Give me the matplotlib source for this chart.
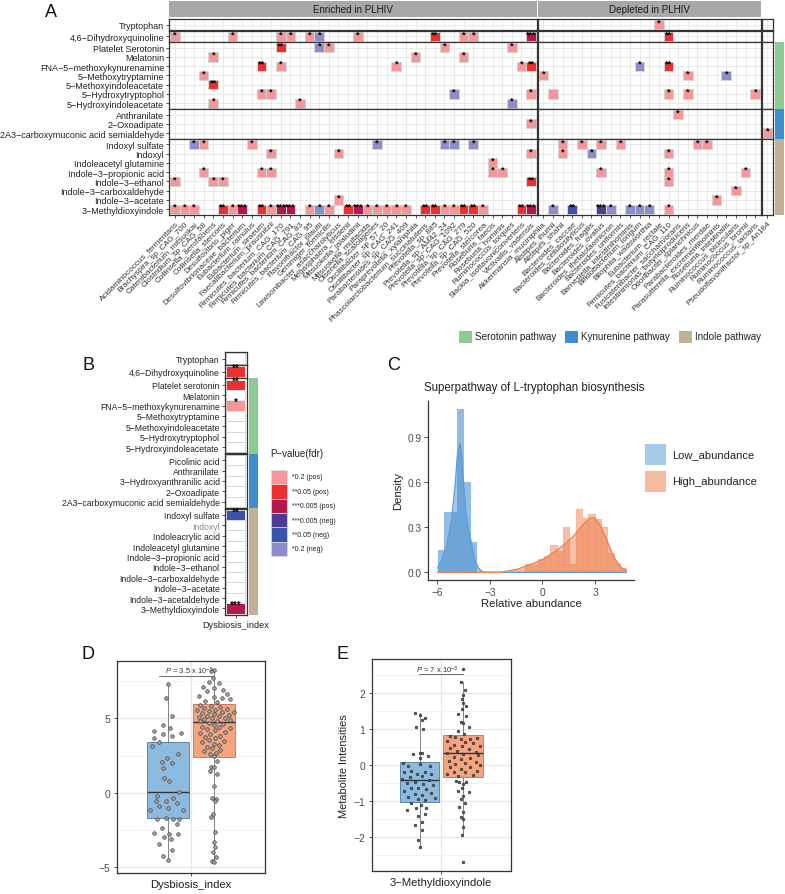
import matplotlib
matplotlib.use('Agg')
import matplotlib.pyplot as plt
from matplotlib.patches import Rectangle
import numpy as np

plt.rcParams['font.family'] = ['Liberation Sans', 'DejaVu Sans']
plt.rcParams['mathtext.fontset'] = 'custom'
plt.rcParams['mathtext.rm'] = 'Liberation Sans'
plt.rcParams['mathtext.it'] = 'Liberation Sans:italic'
plt.rcParams['axes.unicode_minus'] = True

MINUS = '\u2212'
def mm(s):
    return s.replace('-', MINUS)

# ------------------------------------------------------------------ data
species_enriched = ['Acidaminococcus_fermentans', 'Brachyspira_sp_CAG_700', 'Catenibacterium_mitsuokai',
    'Clostridium_sp_CAG_58', 'Collinsella_aerofaciens', 'Collinsella_stercoris', 'Desulfovibrio_piger',
    'Desulfovibrionaceae_bacterium', 'Eubacterium_ramulus', 'Eubacterium_siraeum', 'Faecalibacterium_prausnitzii',
    'Firmicutes_bacterium_CAG_170', 'Firmicutes_bacterium_CAG_791', 'Firmicutes_bacterium_CAG_83',
    'Firmicutes_bacterium_CAG_95', 'Flavonifractor_plautii', 'Gemmiger_formicilis',
    'Lawsonibacter_asaccharolyticus', 'Megasphaera_elsdenii', 'Mitsuokella_jalaludinii', 'Mitsuokella_multacida',
    'Olsenella_scatoligenes', 'Oscillibacter_sp_57_20', 'Oscillibacter_sp_CAG_241', 'Parabacteroides_sp_CAG_409',
    'Paraprevotella_xylaniphila', 'Phascolarctobacterium_succinatutens', 'Prevotella_sp_885',
    'Prevotella_sp_AM42_24', 'Prevotella_sp_CAG_1092', 'Prevotella_sp_CAG_279', 'Prevotella_sp_CAG_520',
    'Prevotella_stercorea', 'Roseburia_faecis', 'Roseburia_hominis', 'Ruminococcus_torques',
    'Slackia_isoflavoniconvertens', 'Victivallis_vadensis']
species_depleted = ['Akkermansia_muciniphila', 'Alistipes_ihumii', 'Alistipes_shahii', 'Bacteroides_caccae',
    'Bacteroides_cellulosilyticus', 'Bacteroides_fragilis', 'Bacteroides_ovatus', 'Bacteroides_thetaiotaomicron',
    'Bacteroides_uniformis', 'Barnesiella_intestinihominis', 'Bifidobacterium_longum', 'Bilophila_wadsworthia',
    'Eubacterium_rectale', 'Firmicutes_bacterium_CAG_110', 'Fusicatenibacter_saccharivorans',
    'Intestinimonas_butyriciproducens', 'Odoribacter_splanchnicus', 'Parabacteroides_merdae',
    'Parasutterella_excrementihominis', 'Roseburia_intestinalis', 'Ruminococcus_bicirculans',
    'Ruminococcus_bromii', 'Ruminococcus_lactaris']
species_other = ['Pseudoflavonifractor_sp_An184']
strip_labels = ['Enriched in PLHIV', 'Depleted in PLHIV', '']

groups_A = [
    ['Tryptophan'],
    ['4,6-Dihydroxyquinoline'],
    ['Platelet Serotonin', 'Melatonin', 'FNA-5-methoxykynurenamine', '5-Methoxytryptamine',
     '5-Methoxyindoleacetate', '5-Hydroxytryptophol', '5-Hydroxyindoleacetate'],
    ['Anthranilate', '2-Oxoadipate', '2A3-carboxymuconic acid semialdehyde'],
    ['Indoxyl sulfate', 'Indoxyl', 'Indoleacetyl glutamine', 'Indole-3-propionic acid', 'Indole-3-ethanol',
     'Indole-3-carboxaldehyde', 'Indole-3-acetate', '3-Methyldioxyindole'],
]
# (species index in enriched+depleted+other, level); level sign = direction, |level| = star count
sig_A = {
    'Tryptophan': [(50, 1)],
    '4,6-Dihydroxyquinoline': [(0, 1), (6, 1), (11, 1), (12, 1), (14, 1), (15, -1), (19, 1), (27, 2), (30, 1),
                               (31, 1), (37, 3), (51, 2)],
    'Platelet Serotonin': [(11, 2), (15, -1), (16, 1), (28, 1), (35, 1)],
    'Melatonin': [(4, 1), (25, 1), (30, 1)],
    'FNA-5-methoxykynurenamine': [(9, 2), (11, 1), (23, 1), (36, 1), (37, 2), (48, -1), (51, 2)],
    '5-Methoxytryptamine': [(3, 1), (38, 1), (53, 1), (57, -1)],
    '5-Methoxyindoleacetate': [(4, 2)],
    '5-Hydroxytryptophol': [(9, 1), (10, 1), (29, -1), (37, 1), (39, 1), (51, 1), (53, 1), (60, 1)],
    '5-Hydroxyindoleacetate': [(4, 1), (13, 1), (35, -1)],
    'Anthranilate': [(52, 1)],
    '2-Oxoadipate': [(37, 1)],
    '2A3-carboxymuconic acid semialdehyde': [(61, 1)],
    'Indoxyl sulfate': [(2, -1), (3, 1), (8, 1), (21, -1), (28, -1), (29, -1), (31, -1), (40, 1), (42, 1),
                        (44, 1), (46, 1), (54, 1), (55, 1)],
    'Indoxyl': [(10, 1), (17, 1), (37, 1), (40, 1), (43, -1), (51, 1)],
    'Indoleacetyl glutamine': [(33, 1)],
    'Indole-3-propionic acid': [(3, 1), (9, 1), (10, 1), (33, 1), (34, 1), (44, 1), (51, 1), (59, 1)],
    'Indole-3-ethanol': [(0, 1), (4, 1), (5, 1), (37, 2), (51, 1)],
    'Indole-3-carboxaldehyde': [(58, 1)],
    'Indole-3-acetate': [(17, 1), (56, 1)],
    '3-Methyldioxyindole': [(0, 1), (1, 1), (2, 1), (5, 2), (6, 1), (7, 3), (9, 2), (10, 1), (11, 3), (12, 3),
                            (14, 1), (15, -1), (16, 1), (18, 2), (19, 3), (20, 1), (21, 1), (22, 1), (23, 1),
                            (24, 1), (26, 2), (27, 2), (28, 1), (29, 1), (30, 2), (31, 2), (32, 1), (36, 2),
                            (37, 3), (39, -1), (41, -2), (44, -3), (45, -1), (47, -1), (48, -1), (49, -1),
                            (51, 1)],
}
unstarred_A = [('5-Hydroxytryptophol', 39)]

pathway_names = ['Serotonin pathway', 'Kynurenine pathway', 'Indole pathway']
pathway_colors = ['#8DCB92', '#3D8ED0', '#C0B195']

level_colors = {1: '#F4969A', 2: '#EC2F30', 3: '#B3194B', -3: '#4D3B94', -2: '#3A55A7', -1: '#8C8DC9'}
legend_levels = [1, 2, 3, -3, -2, -1]
legend_labels = ['*0.2 (pos)', '**0.05 (pos)', '***0.005 (pos)', '***0.005 (neg)', '**0.05 (neg)', '*0.2 (neg)']

groups_B = [
    ['Tryptophan'],
    ['4,6-Dihydroxyquinoline'],
    ['Platelet serotonin', 'Melatonin', 'FNA-5-methoxykynurenamine', '5-Methoxytryptamine',
     '5-Methoxyindoleacetate', '5-Hydroxytryptophol', '5-Hydroxyindoleacetate'],
    ['Picolinic acid', 'Anthranilate', '3-Hydroxyanthranilic acid', '2-Oxoadipate',
     '2A3-carboxymuconic acid semialdehyde'],
    ['Indoxyl sulfate', 'Indoxyl', 'Indoleacrylic acid', 'Indoleacetyl glutamine', 'Indole-3-propionic acid',
     'Indole-3-ethanol', 'Indole-3-carboxaldehyde', 'Indole-3-acetate', 'Indole-3-acetaldehyde',
     '3-Methyldioxyindole'],
]
sig_B = {'4,6-Dihydroxyquinoline': 2, 'Platelet serotonin': 2, 'FNA-5-methoxykynurenamine': 1,
         'Indoxyl sulfate': -2, '3-Methyldioxyindole': 3}
grey_B = ['Indoxyl']

# Panel C
low_edges = [-5.98, -5.615, -5.25, -4.885, -4.52, -4.155, -3.79]
low_heights = [0.15, 0.40, 0.40, 1.09, 0.60, 0.20]
high_edges = [-0.98, -0.62, -0.26, 0.10, 0.46, 0.82, 1.18, 1.54, 1.90, 2.26, 2.62, 2.98, 3.34, 3.70, 4.06,
              4.42, 4.78]
high_heights = [0.055, 0.05, 0.09, 0.11, 0.18, 0.14, 0.30, 0.055, 0.42, 0.36, 0.39, 0.355, 0.30, 0.13, 0.06,
                0.027]
low_kde_x = [-5.98, -5.75, -5.45, -5.17, -4.98, -4.85, -4.72, -4.62, -4.52, -4.41, -4.25, -4.13, -3.95, -3.85,
             -3.65, -3.45, -3.2, 4.78]
low_kde_y = [0.03, 0.08, 0.18, 0.36, 0.58, 0.78, 0.86, 0.80, 0.62, 0.44, 0.30, 0.24, 0.13, 0.08, 0.03, 0.005,
             0.0, 0.0]
high_kde_x = [-5.98, -2.4, -1.45, -0.5, 0.0, 0.62, 1.19, 1.76, 2.33, 2.71, 2.95, 3.27, 3.65, 4.03, 4.41, 4.78]
high_kde_y = [0.0, 0.0, 0.02, 0.06, 0.085, 0.13, 0.18, 0.24, 0.32, 0.36, 0.365, 0.32, 0.22, 0.11, 0.04, 0.01]

# Panel D (Dysbiosis index) – box statistics and jittered points
D_low_stats = dict(whislo=-4.55, q1=-1.75, med=0.07, q3=3.38, whishi=7.30)
D_high_stats = dict(whislo=-4.72, q1=2.43, med=4.77, q3=5.97, whishi=8.24)
D_low_vals = [7.30, 6.35, 5.14, 4.57, 4.35, 4.17, 4.05, 3.94, 3.83, 3.65, 3.42, 3.15, 2.59, 2.36, 2.03, 1.98,
              1.69, 0.97, 0.79, 0.07, -0.23, -0.38, -0.56, -0.56, -0.72, -0.90, -1.01, -1.17, -1.19, -1.69,
              -1.76, -1.76, -1.80, -2.14, -2.36, -2.70, -2.77, -2.77, -3.00, -3.15, -3.45, -3.87, -4.28, -4.55]
D_low_jit = [0.005, -0.016, 0.032, -0.035, 0.019, -0.11, 0.105, -0.035, 0.038, -0.108, -0.067, -0.129, 0.086,
             -0.008, -0.043, 0.032, -0.04, -0.027, 0.013, 0.089, -0.089, 0.04, -0.097, -0.016, 0.078, -0.067,
             0.005, -0.143, 0.127, -0.016, -0.089, 0.046, 0.089, 0.073, -0.049, -0.108, 0.013, 0.081, -0.027,
             0.024, -0.067, 0.032, -0.035, 0.0]
D_high_vals = [8.24, 8.22, 7.70, 7.45, 7.40, 7.10, 7.05, 6.90, 6.85, 6.65, 6.55, 6.45, 6.40, 6.30, 6.20, 6.10,
               5.92, 5.85, 5.80, 5.72, 5.65, 5.60, 5.55, 5.50, 5.45, 5.42, 5.35, 5.30, 5.25, 5.20, 5.15, 5.10,
               5.05, 5.00, 4.95, 4.90, 4.85, 4.80, 4.70, 4.65, 4.55, 4.45, 4.40, 4.35, 4.30, 4.20, 4.10, 4.05,
               3.95, 3.85, 3.75, 3.65, 3.55, 3.45, 3.40, 3.30, 3.20, 3.10, 3.00, 2.90, 2.80, 2.70, 2.60, 2.50,
               2.10, 1.70, 1.70, 1.45, 1.25, 0.45, -0.35, -0.45, -0.55, -1.45, -1.65, -2.65, -3.35, -3.65,
               -4.00, -4.35, -4.60, -4.72]
D_high_jit = [0.0, -0.024, -0.011, -0.038, 0.038, -0.089, 0.003, 0.073, -0.057, 0.105, -0.124, -0.003, 0.065,
              0.127, -0.070, 0.024, -0.116, -0.024, 0.051, -0.084, 0.105, 0.011, -0.138, -0.043, 0.065, 0.159,
              -0.097, -0.003, 0.119, -0.057, 0.038, -0.124, 0.092, -0.016, -0.078, 0.132, 0.024, -0.111,
              -0.043, 0.073, -0.003, -0.097, 0.038, 0.132, -0.057, 0.011, 0.092, -0.111, -0.030, 0.051, -0.070,
              0.011, -0.043, 0.078, -0.097, -0.003, 0.038, -0.057, -0.016, 0.051, -0.078, 0.019, -0.035, 0.003,
              0.024, -0.024, -0.003, -0.035, 0.027, -0.003, -0.013, 0.013, 0.005, -0.011, -0.022, 0.011, -0.003,
              0.005, -0.008, 0.016, -0.013, 0.0]

# Panel E (3-Methyldioxyindole)
E_low_stats = dict(whislo=-2.29, q1=-1.02, med=-0.43, q3=0.08, whishi=1.45)
E_high_stats = dict(whislo=-1.94, q1=-0.33, med=0.32, q3=0.825, whishi=2.29)
E_low_vals = [1.45, 1.38, 1.31, 1.25, 1.06, 0.99, 0.30, 0.34, 0.32, 0.25, 0.18, 0.05, -0.03, 0.02, -0.03,
              -0.17, -0.21, -0.19, -0.26, -0.26, -0.35, -0.32, -0.40, -0.43, -0.47, -0.51, -0.54, -0.56, -0.63,
              -0.65, -0.68, -0.72, -0.77, -0.80, -0.84, -0.88, -0.93, -0.95, -0.99, -1.05, -1.12, -1.19, -1.21,
              -1.26, -1.37, -1.42, -1.58, -1.67, -1.81, -2.08, -2.29]
E_low_jit = [-0.04, 0.0, 0.05, 0.02, -0.03, 0.03, -0.06, 0.0, 0.02, 0.07, 0.0, -0.14, -0.10, 0.0, 0.09, -0.07,
             -0.13, 0.05, -0.02, 0.10, -0.08, 0.02, -0.15, 0.08, -0.04, -0.11, 0.03, 0.12, -0.07, -0.01, 0.06,
             -0.13, 0.10, -0.04, 0.02, -0.10, 0.13, -0.01, 0.05, -0.07, 0.01, 0.06, -0.03, -0.11, 0.05, -0.01,
             0.02, -0.04, 0.02, -0.01, 0.0]
E_high_vals = [2.66, 2.29, 2.08, 1.94, 1.82, 1.71, 1.64, 1.55, 1.41, 1.36, 1.18, 1.16, 1.04, 0.94, 0.87, 0.79,
               0.76, 0.73, 0.71, 0.75, 0.67, 0.64, 0.60, 0.56, 0.53, 0.53, 0.46, 0.44, 0.39, 0.36, 0.32, 0.30,
               0.27, 0.23, 0.20, 0.16, 0.11, 0.09, 0.06, 0.02, 0.00, -0.05, -0.07, -0.12, -0.17, -0.19, -0.21,
               -0.26, -0.28, -0.31, -0.46, -0.49, -0.54, -0.47, -0.63, -0.72, -0.75, -0.86, -0.95, -1.06, -1.18,
               -1.32, -1.46, -1.51, -1.74, -1.94, -2.69]
E_high_jit = [0.005, -0.02, 0.02, 0.0, -0.01, 0.0, 0.03, -0.01, -0.04, 0.03, -0.02, 0.0, 0.05, -0.04, 0.01,
              -0.11, -0.07, -0.02, 0.06, 0.12, -0.14, 0.02, 0.09, -0.08, -0.01, 0.15, -0.11, 0.05, -0.05, 0.11,
              -0.14, 0.0, 0.13, -0.08, 0.06, -0.02, -0.12, 0.11, 0.02, -0.07, 0.15, -0.11, 0.06, -0.02, 0.12,
              -0.08, 0.02, -0.14, 0.09, -0.04, -0.06, -0.03, 0.0, 0.03, -0.01, -0.04, 0.05, 0.0, -0.02, 0.02,
              -0.03, 0.0, -0.02, 0.0, 0.0, -0.01, 0.0]
p_text_D = r'$\it{P}$ = 3.5 x 10$^{-5}$'
p_text_E = r'$\it{P}$ = 7 x 10$^{-3}$'

# ------------------------------------------------------------------ figure helpers
W, H = 785, 895
fig = plt.figure(figsize=(W / 100, H / 100), dpi=100)

def px_axes(l, t, r, b, **kw):
    return fig.add_axes([l / W, 1 - b / H, (r - l) / W, (b - t) / H], **kw)

def fig_rect(l, t, r, b, **kw):
    fig.add_artist(Rectangle((l / W, 1 - b / H), (r - l) / W, (b - t) / H, transform=fig.transFigure, **kw))

def fig_text(x, y, s, **kw):
    fig.text(x / W, 1 - y / H, s, **kw)

DARK = '#222222'
SPINE = '#333333'
GRIDA = '#E2E2E2'

def style_facet(ax):
    for s in ax.spines.values():
        s.set_color(SPINE)
        s.set_linewidth(0.9)
    ax.set_facecolor('white')
    ax.tick_params(length=2, width=0.6, color=SPINE, pad=1.5)

def draw_stars(ax, x, y, n, fs=6.5, dy=-0.02):
    ax.text(x, y + dy, '*' * n, ha='center', va='baseline', fontsize=fs, color='black', zorder=6,
            family='Liberation Sans', fontweight='bold')

# ------------------------------------------------------------------ Panel A
species_all = species_enriched + species_depleted + species_other
wA, hA = 9.63, 9.25
colA = []
x = 169.0
for (c0, c1) in [(0, len(species_enriched)),
                 (len(species_enriched), len(species_enriched) + len(species_depleted)),
                 (len(species_enriched) + len(species_depleted), len(species_all))]:
    r = x + (c1 - c0 + 0.2) * wA
    colA.append((x, r, c0, c1))
    x = r + 0.7
rowA = []
t = 20.3
for grp in groups_A:
    b = t + (len(grp) + 0.2) * hA
    rowA.append((t, b))
    t = b + 0.3

for ri, (t, b) in enumerate(rowA):
    mets = groups_A[ri]
    m = len(mets)
    for ci, (l, r, c0, c1) in enumerate(colA):
        n = c1 - c0
        ax = px_axes(l, t, r, b)
        style_facet(ax)
        ax.set_xlim(-0.6, n - 0.4)
        ax.set_ylim(m - 0.4, -0.6)
        for k in range(n):
            ax.axvline(k, color=GRIDA, lw=0.5, zorder=0)
        for k in range(m):
            ax.axhline(k, color=GRIDA, lw=0.5, zorder=0)
        for rr, met in enumerate(mets):
            for (g, lev) in sig_A.get(met, []):
                if c0 <= g < c1:
                    c = g - c0
                    ax.add_patch(Rectangle((c - 0.5, rr - 0.5), 1, 1, facecolor=level_colors[lev],
                                           edgecolor='#D6D6D6', lw=0.7, zorder=2))
                    if (met, g) not in unstarred_A:
                        draw_stars(ax, c, rr, abs(lev))
        if ci == 0:
            ax.set_yticks(range(m))
            ax.set_yticklabels([mm(s) for s in mets], fontsize=6.5, color=DARK)
        else:
            ax.set_yticks([])
        if ri == len(rowA) - 1:
            ax.set_xticks(range(n))
            ax.set_xticklabels(species_all[c0:c1], rotation=45, ha='right', va='top',
                               rotation_mode='anchor', fontsize=5.9, color='#333333')
        else:
            ax.set_xticks([])

for ci, (l, r, c0, c1) in enumerate(colA):
    if strip_labels[ci]:
        sax = px_axes(l, 1.7, r, 17.7)
        sax.set_facecolor('#A8A8A8')
        for s in sax.spines.values():
            s.set_visible(False)
        sax.set_xticks([]); sax.set_yticks([])
        sax.text(0.5, 0.48, strip_labels[ci], transform=sax.transAxes, ha='center', va='center',
                 fontsize=7.1, color='#1A1A1A')

# pathway colour bars (panel A)
fig_rect(775, rowA[2][0], 783.5, (rowA[2][1] + rowA[3][0]) / 2, color=pathway_colors[0], lw=0)
fig_rect(775, (rowA[2][1] + rowA[3][0]) / 2, 783.5, (rowA[3][1] + rowA[4][0]) / 2, color=pathway_colors[1], lw=0)
fig_rect(775, (rowA[3][1] + rowA[4][0]) / 2, 783.5, rowA[4][1], color=pathway_colors[2], lw=0)

# pathway legend
for (sx, tx), name, col in zip([(459, 475), (565, 581), (679, 695)], pathway_names, pathway_colors):
    fig_rect(sx, 331.5, sx + 12.5, 343.5, color=col, lw=0)
    fig_text(tx, 337.5, name, ha='left', va='center', fontsize=7.1, color=DARK)

fig_text(51, 12.5, 'A', ha='center', va='center', fontsize=13, color='#111111')

# ------------------------------------------------------------------ Panel B
hB = 10.4
rowB = []
t = 353.3
for grp in groups_B:
    b = t + (len(grp) + 0.2) * hB
    rowB.append((t, b))
    t = b + 0.6
for ri, (t, b) in enumerate(rowB):
    mets = groups_B[ri]
    m = len(mets)
    ax = px_axes(224.5, t, 247.3, b)
    style_facet(ax)
    ax.set_xlim(-0.6, 0.6)
    ax.set_ylim(m - 0.4, -0.6)
    for rr, met in enumerate(mets):
        lev = sig_B.get(met)
        if lev is None:
            ax.add_patch(Rectangle((-0.5, rr - 0.5), 1, 1, facecolor='white', edgecolor='#D9D9D9',
                                   lw=0.7, zorder=2))
        else:
            ax.add_patch(Rectangle((-0.5, rr - 0.5), 1, 1, facecolor=level_colors[lev], edgecolor='#E6E6E6',
                                   lw=0.7, zorder=2))
            draw_stars(ax, 0, rr, abs(lev), fs=7, dy=-0.04)
    ax.set_yticks(range(m))
    ax.set_yticklabels([mm(s) for s in mets], fontsize=6.2, color=DARK)
    for lab, met in zip(ax.get_yticklabels(), mets):
        if met in grey_B:
            lab.set_color('#8C8C8C')
    if ri == len(rowB) - 1:
        ax.set_xticks([0])
        ax.set_xticklabels(['Dysbiosis_index'], fontsize=6.6, color=DARK)
    else:
        ax.set_xticks([])

fig_rect(249, rowB[2][0], 258, (rowB[2][1] + rowB[3][0]) / 2, color=pathway_colors[0], lw=0)
fig_rect(249, (rowB[2][1] + rowB[3][0]) / 2, 258, (rowB[3][1] + rowB[4][0]) / 2, color=pathway_colors[1], lw=0)
fig_rect(249, (rowB[3][1] + rowB[4][0]) / 2, 258, rowB[4][1], color=pathway_colors[2], lw=0)

fig_text(270.5, 454, mm('P-value(fdr)'), ha='left', va='center', fontsize=7, color=DARK)
for i, (lev, lab) in enumerate(zip(legend_levels, legend_labels)):
    y0 = 470.7 + i * 14.4
    fig_rect(270.5, y0, 287, y0 + 14.4, facecolor=level_colors[lev], edgecolor='#DDDDDD', lw=0.5)
    fig_text(291.5, y0 + 7.2, lab, ha='left', va='center', fontsize=5, color=DARK)

fig_text(89, 365, 'B', ha='center', va='center', fontsize=13, color='#111111')

# ------------------------------------------------------------------ Panel C
axC = px_axes(428.3, 401.7, 634.3, 580.7)
axC.set_xlim(-6.51, 5.24)
axC.set_ylim(-0.049, 1.144)
blue, orange = '#5B9FD6', '#F0804F'
axC.bar(low_edges[:-1], low_heights, width=np.diff(low_edges), align='edge',
        facecolor=(0.36, 0.60, 0.83, 0.65), edgecolor=(0.55, 0.74, 0.90, 0.95), lw=0.8, zorder=2)
axC.bar(high_edges[:-1], high_heights, width=np.diff(high_edges), align='edge',
        facecolor=(0.96, 0.60, 0.45, 0.62), edgecolor=(0.97, 0.72, 0.60, 0.95), lw=0.8, zorder=2)
axC.fill_between(low_kde_x, low_kde_y, color='#3E8ACB', alpha=0.45, lw=0, zorder=3)
axC.fill_between(high_kde_x, high_kde_y, color='#EE7440', alpha=0.45, lw=0, zorder=3)
axC.plot(low_kde_x, low_kde_y, color=blue, lw=1.0, zorder=4)
axC.plot(high_kde_x, high_kde_y, color=orange, lw=1.0, zorder=4)
for s in ['top', 'right']:
    axC.spines[s].set_visible(False)
for s in ['left', 'bottom']:
    axC.spines[s].set_color(SPINE)
    axC.spines[s].set_linewidth(0.9)
axC.set_xticks([-6, -3, 0, 3])
axC.set_xticklabels([mm('-6'), mm('-3'), '0', '3'])
axC.set_yticks([0.0, 0.3, 0.6, 0.9])
axC.set_yticklabels(['0.0', '0.3', '0.6', '0.9'])
axC.tick_params(labelsize=7.3, labelcolor='#4D4D4D', length=3, width=0.6, color=SPINE, pad=2)
axC.set_xlabel('Relative abundance', fontsize=8.2, color=DARK, labelpad=1)
axC.set_ylabel('Density', fontsize=8.2, color=DARK, labelpad=3)
fig_text(424, 388, 'Superpathway of L-tryptophan biosynthesis', ha='left', va='center', fontsize=8.3,
         color=DARK)
fig_rect(644.5, 445, 665.5, 466, color='#A7CAE8', lw=0)
fig_rect(644.5, 472, 665.5, 493, color='#F7BC9D', lw=0)
fig_text(672, 455.5, 'Low_abundance', ha='left', va='center', fontsize=8, color=DARK)
fig_text(672, 482.5, 'High_abundance', ha='left', va='center', fontsize=8, color=DARK)
fig_text(394, 366, 'C', ha='center', va='center', fontsize=13, color='#111111')

# ------------------------------------------------------------------ Panels D & E
def box_panel(ax, lo_stats, hi_stats, lo_vals, lo_jit, hi_vals, hi_jit, major, minor, ylim, ms, pfc, pec):
    ax.set_xlim(0.4, 1.6)
    ax.set_ylim(*ylim)
    for v in minor:
        ax.axhline(v, color='#F0F0F0', lw=0.5, zorder=0)
    for v in major:
        ax.axhline(v, color='#E6E6E6', lw=0.8, zorder=0)
    ax.axvline(1.0, color='#E6E6E6', lw=0.8, zorder=0)
    pos = [1 - 0.187, 1 + 0.187]
    for st, p, fc, ec in [(lo_stats, pos[0], '#8DBBDF', '#5D86AE'), (hi_stats, pos[1], '#F5A47F', '#C7805F')]:
        ax.bxp([st], positions=[p], widths=0.34, patch_artist=True, showfliers=False, showcaps=False,
               boxprops=dict(facecolor=fc, edgecolor=ec, lw=0.7),
               medianprops=dict(color='#333333', lw=1.0),
               whiskerprops=dict(color='#707070', lw=0.6), manage_ticks=False, zorder=2)
    ax.plot(pos[0] + np.array(lo_jit), lo_vals, 'o', ms=ms, mfc=pfc, mec=pec, mew=0.45, zorder=4, ls='none')
    ax.plot(pos[1] + np.array(hi_jit), hi_vals, 'o', ms=ms, mfc=pfc, mec=pec, mew=0.45, zorder=4, ls='none')
    for s in ax.spines.values():
        s.set_color(SPINE)
        s.set_linewidth(0.9)
    ax.set_yticks(major)
    ax.set_yticklabels([mm(str(v)) for v in major])
    ax.tick_params(labelsize=7.5, labelcolor='#4D4D4D', length=2.5, width=0.6, color=SPINE, pad=2)
    return pos

axD = px_axes(116.7, 661.7, 265.0, 874.0)
box_panel(axD, D_low_stats, D_high_stats, D_low_vals, D_low_jit, D_high_vals, D_high_jit,
          [-5, 0, 5], [-2.5, 2.5, 7.5], (-5.43, 8.9), 2.6, '#A3A3A3', '#3A3A3A')
axD.set_xticks([1.0])
axD.set_xticklabels(['Dysbiosis_index'], fontsize=8.1, color=DARK)
axD.plot([0.74, 1.18], [7.86, 7.86], color='#555555', lw=0.6, zorder=5)
axD.text(0.99, 8.22, p_text_D, ha='center', va='center', fontsize=5.5, color='#333333', zorder=5)
fig_text(88, 655, 'D', ha='center', va='center', fontsize=13, color='#111111')

axE = px_axes(371.7, 660.0, 510.7, 871.7)
box_panel(axE, E_low_stats, E_high_stats, E_low_vals, E_low_jit, E_high_vals, E_high_jit,
          [-2, -1, 0, 1, 2], [-2.5, -1.5, -0.5, 0.5, 1.5, 2.5], (-2.94, 2.94), 1.9, '#5A5A5A', '#2E2E2E')
axE.set_xticks([1.0])
axE.set_xticklabels([mm('3-Methyldioxyindole')], fontsize=8.1, color=DARK)
axE.set_ylabel('Metabolite Intensities', fontsize=7.9, color=DARK, labelpad=3)
axE.plot([0.808, 1.19], [2.51, 2.51], color='#555555', lw=0.6, zorder=5)
axE.text(0.97, 2.64, p_text_E, ha='center', va='center', fontsize=5.5, color='#333333', zorder=5)
fig_text(343, 655, 'E', ha='center', va='center', fontsize=13, color='#111111')

fig.savefig('out.png', dpi=100)
